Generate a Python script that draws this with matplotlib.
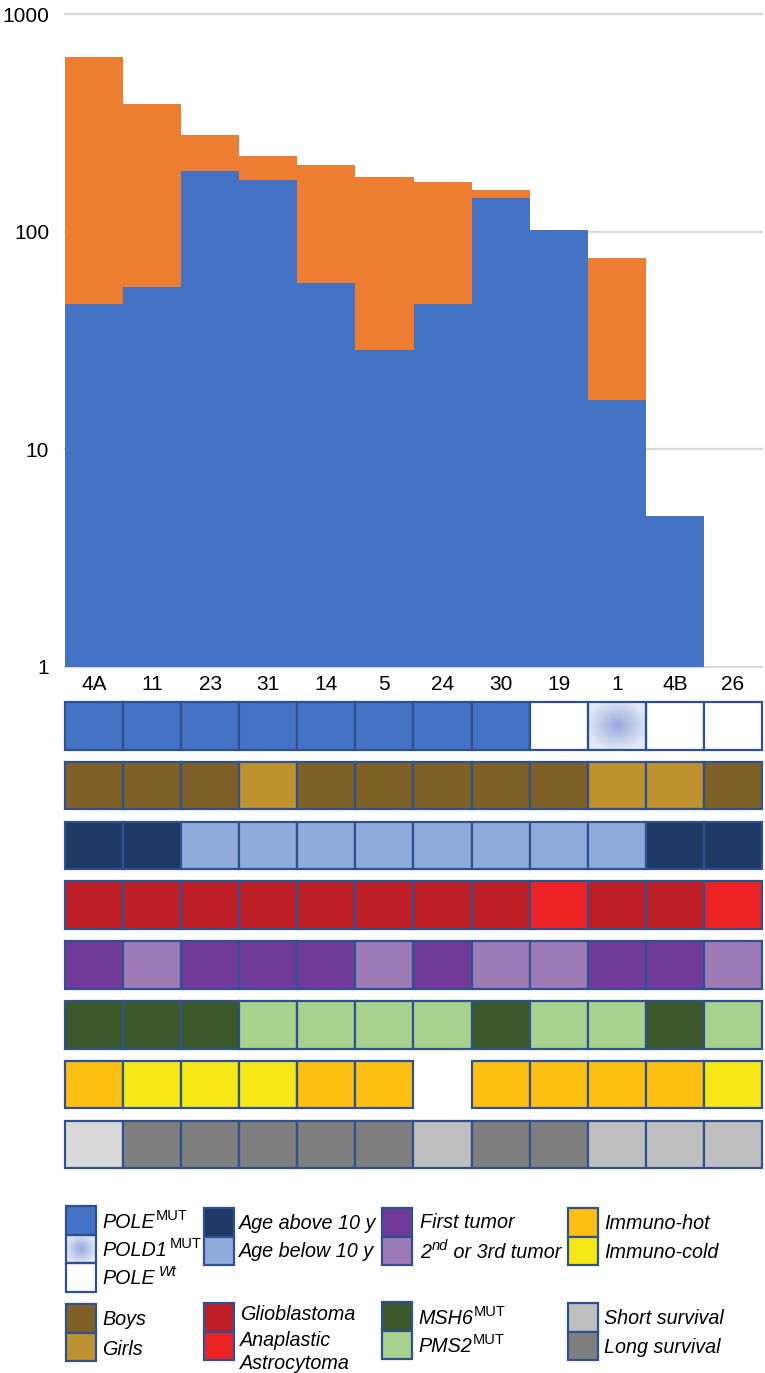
import numpy as np
import matplotlib
matplotlib.use('Agg')
import matplotlib.pyplot as plt
from matplotlib.patches import Rectangle

plt.rcParams['font.family'] = ['Liberation Sans', 'DejaVu Sans']

# ---------------- data ----------------
samples = ['4A', '11', '23', '31', '14', '5', '24', '30', '19', '1', '4B', '26']
blue_vals = [46.5, 55.6, 189, 172, 58.2, 28.6, 46.5, 142, 102, 16.8, 4.94, 0]
orange_vals = [585, 329, 90, 50, 144, 149, 122, 14, 0, 59, 0, 0]
y_ticks = [1, 10, 100, 1000]

pole_status = ['P', 'P', 'P', 'P', 'P', 'P', 'P', 'P', 'W', 'D', 'W', 'W']
sex = ['B', 'B', 'B', 'G', 'B', 'B', 'B', 'B', 'B', 'G', 'G', 'B']
age = ['A', 'A', 'B', 'B', 'B', 'B', 'B', 'B', 'B', 'B', 'A', 'A']
tumor = ['G', 'G', 'G', 'G', 'G', 'G', 'G', 'G', 'A', 'G', 'G', 'A']
tumor_order = ['F', 'S', 'F', 'F', 'F', 'S', 'F', 'S', 'S', 'F', 'F', 'S']
mmr = ['M', 'M', 'M', 'P', 'P', 'P', 'P', 'M', 'P', 'P', 'M', 'P']
immuno = ['H', 'C', 'C', 'C', 'H', 'H', None, 'H', 'H', 'H', 'H', 'C']
survival = ['S0', 'L', 'L', 'L', 'L', 'L', 'S', 'L', 'L', 'S', 'S', 'S']

# ---------------- styles ----------------
BLUE = '#4472C4'
ORANGE = '#ED7D31'
GRID = '#D9D9D9'
EDGE = '#2F528F'

row_colors = [
    {'P': BLUE, 'W': '#FFFFFF', 'D': 'gradient'},
    {'B': '#7F6128', 'G': '#BF9230'},
    {'A': '#203864', 'B': '#8FAADC'},
    {'G': '#BE1E26', 'A': '#ED2224'},
    {'F': '#713A98', 'S': '#9E7BB6'},
    {'M': '#3A5829', 'P': '#A9D18E'},
    {'H': '#FDBF12', 'C': '#F6E816'},
    {'S0': '#D9D9D9', 'S': '#BFBFBF', 'L': '#7F7F7F'},
]
rows = [pole_status, sex, age, tumor, tumor_order, mmr, immuno, survival]

W, H = 765, 1373
fig = plt.figure(figsize=(W / 100, H / 100), dpi=100)

def fx(px):
    return px / W

def fy(py):
    return 1 - py / H

# ---------------- bar chart ----------------
left_px, right_px = 65, 762
top_px, bot_px = 14, 666.7
ax = fig.add_axes([fx(left_px), fy(bot_px), fx(right_px - left_px), (bot_px - top_px) / H])
x = np.arange(len(samples))
ax.set_yscale('log')
ax.set_ylim(1, 1000)
ax.set_xlim(-0.5, len(samples) - 0.5)
for t in y_ticks:
    ax.axhline(t, color=GRID, lw=1.6, zorder=0, clip_on=False)
ax.bar(x, blue_vals, width=1.0, color=BLUE, zorder=2, linewidth=0)
ax.bar(x, orange_vals, width=1.0, bottom=blue_vals, color=ORANGE, zorder=2, linewidth=0)
for s in ax.spines.values():
    s.set_visible(False)
ax.set_yticks(y_ticks)
ax.set_yticklabels([str(t) for t in y_ticks])
ax.yaxis.set_minor_locator(matplotlib.ticker.NullLocator())
ax.tick_params(axis='y', length=0, pad=11.5, labelsize=15, colors='black')
ax.set_xticks(x)
ax.set_xticklabels(samples)
ax.tick_params(axis='x', length=0, pad=6, labelsize=15, colors='black')

# ---------------- overlay (tiles + legend) ----------------
ov = fig.add_axes([0, 0, 1, 1])
ov.set_xlim(0, W)
ov.set_ylim(H, 0)
ov.axis('off')

tile_w = (right_px - left_px) / len(samples)
row_top0 = 702
row_pitch = 59.8
tile_h = 47.5
lw_edge = 1.6

def gradient_tile(x0, y0, w, h):
    n = 60
    yy, xx = np.mgrid[-1:1:n * 1j, -1:1:n * 1j]
    r = np.clip(np.sqrt(xx ** 2 + yy ** 2) / 1.1, 0, 1)
    c0 = np.array([150, 170, 220]) / 255
    c1 = np.array([228, 233, 246]) / 255
    img = c0[None, None, :] * (1 - r[..., None]) + c1[None, None, :] * r[..., None]
    ov.imshow(img, extent=[x0, x0 + w, y0 + h, y0], zorder=1, aspect='auto', interpolation='bilinear')

for ri, (vals, cmap) in enumerate(zip(rows, row_colors)):
    y0 = row_top0 + ri * row_pitch
    for ci, v in enumerate(vals):
        if v is None:
            continue
        x0 = left_px + ci * tile_w
        col = cmap[v]
        if col == 'gradient':
            gradient_tile(x0, y0, tile_w, tile_h)
            ov.add_patch(Rectangle((x0, y0), tile_w, tile_h, facecolor='none',
                                   edgecolor=EDGE, lw=lw_edge, zorder=3))
        else:
            ov.add_patch(Rectangle((x0, y0), tile_w, tile_h, facecolor=col,
                                   edgecolor=EDGE, lw=lw_edge, zorder=2))
ov.set_xlim(0, W)
ov.set_ylim(H, 0)

# ---------------- legend ----------------
sw_w, sw_h = 30, 28.5
leg_fs = 14.2
sup_fs = 10.5
renderer = fig.canvas.get_renderer()

def rich_text(x0, base_y, parts):
    """parts: list of (text, kind, style, gap) kind 'n' normal / 's' superscript"""
    cx = x0
    for txt, kind, style, gap in parts:
        cx += gap
        if kind == 'n':
            t = ov.text(cx, base_y, txt, fontsize=leg_fs, fontstyle=style,
                        ha='left', va='baseline', color='black')
        else:
            t = ov.text(cx, base_y - 7.5, txt, fontsize=sup_fs, fontstyle=style,
                        ha='left', va='baseline', color='black')
        bb = t.get_window_extent(renderer=renderer)
        inv = ov.transData.inverted()
        (xa, _), (xb, _) = inv.transform([[bb.x0, bb.y0], [bb.x1, bb.y1]])
        cx = max(xa, xb)

def legend_group(x0, y0, colors, labels, text_x, text_centers):
    for i, c in enumerate(colors):
        yy = y0 + i * sw_h
        if c == 'gradient':
            gradient_tile(x0, yy, sw_w, sw_h)
            ov.add_patch(Rectangle((x0, yy), sw_w, sw_h, facecolor='none',
                                   edgecolor=EDGE, lw=lw_edge, zorder=3))
        else:
            ov.add_patch(Rectangle((x0, yy), sw_w, sw_h, facecolor=c,
                                   edgecolor=EDGE, lw=lw_edge, zorder=2))
    for lab, cy in zip(labels, text_centers):
        if isinstance(lab, str):
            lab = [(lab, 'n', 'italic', 0)]
        rich_text(text_x, cy + 7, lab)

legend_group(66, 1206, [BLUE, 'gradient', '#FFFFFF'],
             [[('POLE', 'n', 'italic', 0), ('MUT', 's', 'normal', 1)],
              [('POLD1', 'n', 'italic', 0), ('MUT', 's', 'normal', 3)],
              [('POLE', 'n', 'italic', 0), ('Wt', 's', 'italic', 4)]],
             102, [1221, 1249, 1277])
legend_group(204, 1208, [row_colors[2]['A'], row_colors[2]['B']],
             ['Age above 10 y', 'Age below 10 y'], 239, [1222, 1250])
legend_group(382, 1208, [row_colors[4]['F'], row_colors[4]['S']],
             ['First tumor',
              [('2', 'n', 'italic', 0), ('nd', 's', 'italic', 1), (' or 3rd tumor', 'n', 'italic', 0)]],
             420, [1221, 1251])
legend_group(568, 1208, [row_colors[6]['H'], row_colors[6]['C']],
             ['Immuno-hot', 'Immuno-cold'], 604, [1222, 1251])

legend_group(66, 1304, [row_colors[1]['B'], row_colors[1]['G']],
             ['Boys', 'Girls'], 102, [1318, 1348])
legend_group(204, 1303, [row_colors[3]['G'], row_colors[3]['A']],
             ['Glioblastoma', 'Anaplastic', 'Astrocytoma'], 240, [1313, 1339, 1362])
legend_group(382, 1302, [row_colors[5]['M'], row_colors[5]['P']],
             [[('MSH6', 'n', 'italic', 0), ('MUT', 's', 'normal', 1)],
              [('PMS2', 'n', 'italic', 0), ('MUT', 's', 'normal', 1)]],
             418, [1317, 1345])
legend_group(568, 1303, [row_colors[7]['S'], row_colors[7]['L']],
             ['Short survival', 'Long survival'], 604, [1317, 1346])

fig.savefig('out.png', dpi=100)
